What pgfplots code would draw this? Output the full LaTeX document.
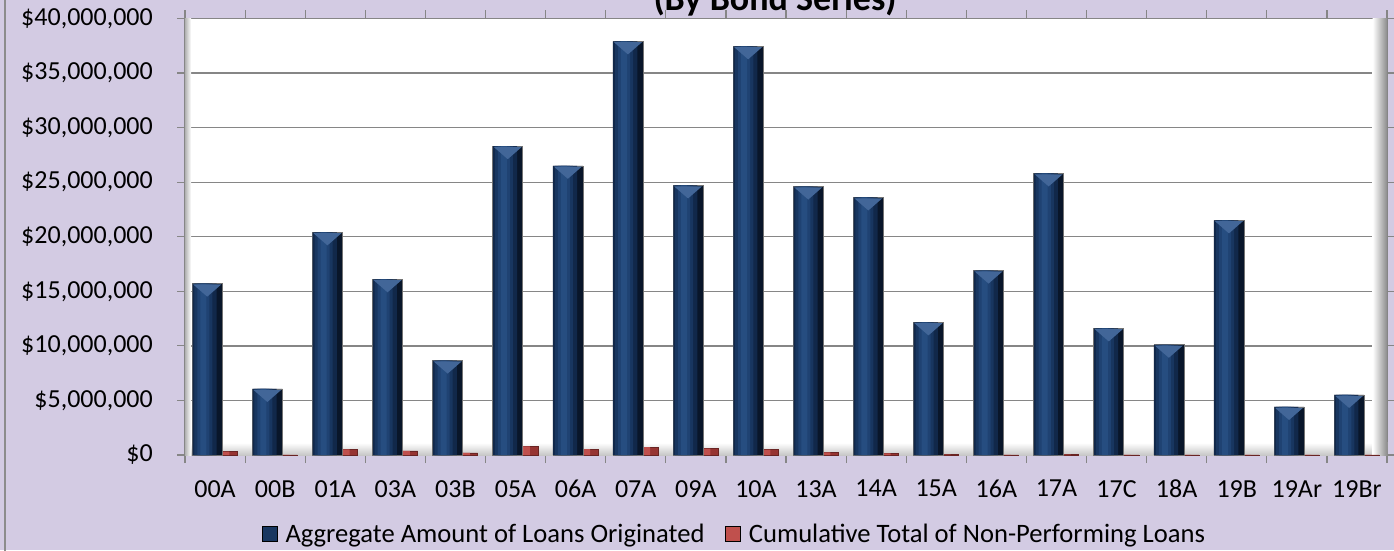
\documentclass[border=0pt]{standalone}
\usepackage{pgfplots}
\usepackage{pgfplotstable}
\pgfplotsset{compat=1.18}
\usepackage{fontspec}
\setmainfont{Carlito}
\definecolor{lav}{RGB}{211,203,227}
\definecolor{gridc}{RGB}{134,134,134}
\definecolor{b0}{RGB}{9,22,42}
\definecolor{b1}{RGB}{17,40,74}
\definecolor{b2}{RGB}{24,54,96}
\definecolor{b3}{RGB}{31,66,114}
\definecolor{b4}{RGB}{38,77,128}
\definecolor{bev}{RGB}{66,102,152}
\definecolor{r0}{RGB}{150,52,50}
\definecolor{r1}{RGB}{192,80,77}
\definecolor{r2}{RGB}{214,106,102}
\pgfdeclareplotmark{bevel}{%
  \pgfpathmoveto{\pgfqpoint{-14pt}{-0.8pt}}%
  \pgfpathlineto{\pgfqpoint{14pt}{-0.8pt}}%
  \pgfpathlineto{\pgfqpoint{0pt}{-13pt}}%
  \pgfpathclose\pgfusepathqfill}
\pgfplotstableread{
x blue red
0 15700000 300000
1 6050000 20000
2 20400000 520000
3 16100000 370000
4 8650000 200000
5 28300000 790000
6 26500000 550000
7 37900000 730000
8 24700000 580000
9 37450000 490000
10 24600000 250000
11 23600000 150000
12 12150000 30000
13 16900000 20000
14 25800000 30000
15 11600000 20000
16 10100000 20000
17 21500000 20000
18 4400000 20000
19 5500000 20000
}\loans
\begin{document}
\begin{tikzpicture}[x=1pt,y=1pt]
\useasboundingbox (0,0) rectangle (1394,550);
\fill[lav] (0,0) rectangle (1394,550);
\draw[gray!90, line width=1.5pt] (5,-5) -- (5,560);
\node[font=\bfseries\fontsize{36}{40}\selectfont, anchor=base] at (775,539) {(By Bond Series)};
\begin{axis}[
  at={(185pt,95pt)}, anchor=south west,
  scale only axis, width=1202pt, height=436.5pt,
  xmin=-0.5, xmax=19.5, ymin=0, ymax=40000000,
  axis background/.style={fill=white},
  axis line style={gridc, line width=1.2pt},
  xtick={0,1,2,3,4,5,6,7,8,9,10,11,12,13,14,15,16,17,18,19},
  xticklabels={00A,00B,01A,03A,03B,05A,06A,07A,09A,10A,13A,14A,15A,16A,17A,17C,18A,19B,19Ar,19Br},
  minor xtick={-0.5,0.5,1.5,2.5,3.5,4.5,5.5,6.5,7.5,8.5,9.5,10.5,11.5,12.5,13.5,14.5,15.5,16.5,17.5,18.5,19.5},
  ytick={0,5000000,10000000,15000000,20000000,25000000,30000000,35000000,40000000},
  yticklabels={{\$0},{\$5,000,000},{\$10,000,000},{\$15,000,000},{\$20,000,000},{\$25,000,000},{\$30,000,000},{\$35,000,000},{\$40,000,000}},
  scaled y ticks=false,
  tick align=outside,
  major tick length=8pt, minor tick length=8pt,
  tick style={gridc, line width=1.2pt},
  major x tick style={draw=none},
  ymajorgrids, grid style={gridc, line width=1.3pt},
  ticklabel style={font=\fontsize{26}{30}\selectfont},
  /pgf/number format/assume math mode=true,
  yticklabel style={inner sep=0pt, xshift=-24pt},
  xticklabel style={inner sep=0pt, yshift=-17pt},
  legend image code/.code={\fill[#1] (0pt,-7.5pt) rectangle (15pt,7.5pt);},
  legend style={draw=none, fill=none, inner sep=0pt, legend columns=-1,
    at={(0.064,-0.18)}, anchor=west, font=\fontsize{26.6}{30}\selectfont,
    nodes={inner sep=0pt},
    /tikz/every odd column/.append style={column sep=8pt},
    /tikz/every even column/.append style={column sep=21pt}},
]
\addlegendimage{fill=b2}
\addlegendentry{Aggregate Amount of Loans Originated}
\addlegendimage{fill=r1}
\addlegendentry{Cumulative Total of Non-Performing Loans}
% 3-D floor and walls of the plot area
\fill[top color=white, bottom color=black!22] (rel axis cs:0,0) rectangle (rel axis cs:1,0.028);
\fill[left color=black!30, right color=white] (rel axis cs:0,0) rectangle (rel axis cs:0.005,1);
\fill[left color=white, right color=black!45] (rel axis cs:0.988,0) rectangle (rel axis cs:1,1);
% Cumulative Total of Non-Performing Loans (back row)
\addplot[ybar, bar width=0.5, bar shift=0.12, fill=r0, draw=r0!70!black, line width=0.5pt, forget plot] table[x=x, y=red] {\loans};
\addplot[ybar, bar width=0.36, bar shift=0.06, fill=r1, draw=none, forget plot] table[x=x, y=red] {\loans};
\addplot[ybar, bar width=0.2, bar shift=0.03, fill=r2, draw=none, forget plot] table[x=x, y=red] {\loans};
% Aggregate Amount of Loans Originated (front row)
\addplot[ybar, bar width=0.5, bar shift=-0.13, fill=b0, draw=black!55, line width=0.6pt, forget plot] table[x=x, y=blue] {\loans};
\addplot[ybar, bar width=0.40, bar shift=-0.175, fill=b1, draw=none, forget plot] table[x=x, y=blue] {\loans};
\addplot[ybar, bar width=0.30, bar shift=-0.195, fill=b2, draw=none, forget plot] table[x=x, y=blue] {\loans};
\addplot[ybar, bar width=0.20, bar shift=-0.195, fill=b3, draw=none, forget plot] table[x=x, y=blue] {\loans};
\addplot[ybar, bar width=0.10, bar shift=-0.195, fill=b4, draw=none, forget plot] table[x=x, y=blue] {\loans};
\addplot[only marks, mark=bevel, color=bev, forget plot] table[x expr=\thisrow{x}-0.13, y=blue] {\loans};
\end{axis}
\end{tikzpicture}
\end{document}
